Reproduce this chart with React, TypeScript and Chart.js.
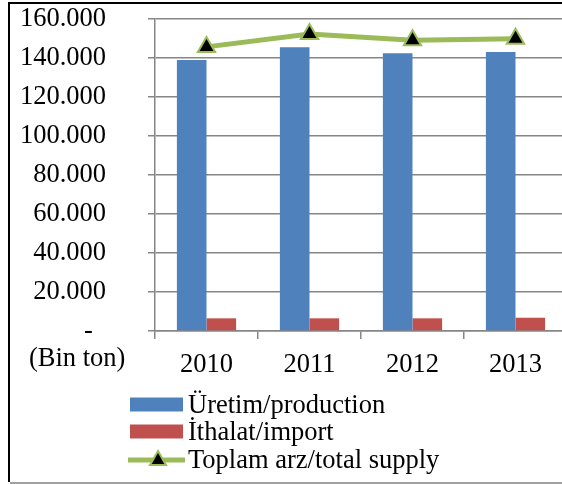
import React, { useEffect, useRef } from "react";
import { Chart, registerables } from "chart.js";

Chart.register(...registerables);

const years = ["2010", "2011", "2012", "2013"];
const production = [139000, 145500, 142400, 143100];
const imports = [6500, 6500, 6500, 6800];
const totalSupply = [145700, 152300, 149100, 149900];
const seriesLabels = ["Üretim/production", "İthalat/import", "Toplam arz/total supply"];
const unitLabel = "(Bin ton)";
const yMin = 0;
const yMax = 160000;
const yStep = 20000;

const BLUE = "#4F81BD";
const RED = "#C0504D";
const GREEN = "#9BBB59";
const GRID = "#868686";
const FONT = '"Liberation Serif", "Times New Roman", serif';
const FS = 26.5;

function fmt(v: number): string {
  if (v === 0) return "-  ";
  return Math.round(v).toString().replace(/\B(?=(\d{3})+(?!\d))/g, ".");
}

export default function App() {
  const ref = useRef<HTMLCanvasElement | null>(null);

  useEffect(() => {
    if (!ref.current) return;
    const chart = new Chart(ref.current, {
      type: "bar",
      data: {
        labels: years,
        datasets: [
          {
            type: "line",
            label: seriesLabels[2],
            data: totalSupply,
            borderColor: GREEN,
            borderWidth: 5,
            backgroundColor: "#000",
            pointStyle: "triangle",
            pointRadius: 10,
            pointBackgroundColor: "#000",
            pointBorderColor: GREEN,
            pointBorderWidth: 2,
            tension: 0,
            order: 0,
          } as any,
          {
            type: "bar",
            label: seriesLabels[0],
            data: production,
            backgroundColor: BLUE,
            categoryPercentage: 0.575,
            barPercentage: 1,
            order: 1,
          },
          {
            type: "bar",
            label: seriesLabels[1],
            data: imports,
            backgroundColor: RED,
            categoryPercentage: 0.575,
            barPercentage: 1,
            order: 1,
          },
        ],
      },
      options: {
        responsive: false,
        animation: false,
        layout: { autoPadding: false, padding: { left: 0, right: 8, top: 19, bottom: 93 } },
        plugins: { legend: { display: false }, tooltip: { enabled: false } },
        scales: {
          x: {
            offset: true,
            grid: {
              offset: true,
              drawOnChartArea: false,
              drawTicks: true,
              tickLength: 8,
              color: GRID,
              lineWidth: 1.5,
            },
            border: { display: true, color: GRID, width: 1.5 },
            ticks: {
              color: "#000",
              font: { family: FONT, size: FS },
              padding: 10,
              maxRotation: 0,
              autoSkip: false,
            },
            afterFit: (s: any) => {
              s.height = 60;
              s.paddingLeft = 0;
              s.paddingRight = 0;
            },
          },
          y: {
            min: yMin,
            max: yMax,
            grid: { color: GRID, lineWidth: 1.5, tickLength: 7, drawTicks: true },
            border: { display: true, color: GRID, width: 1.5 },
            ticks: {
              stepSize: yStep,
              color: "#000",
              font: { family: FONT, size: FS },
              padding: 42,
              autoSkip: false,
              callback: (v: any) => fmt(Number(v)),
            },
            afterFit: (s: any) => {
              s.width = 155;
              s.paddingTop = 0;
              s.paddingBottom = 0;
            },
          },
        },
      },
    });
    return () => chart.destroy();
  }, []);

  const legendRows = [
    { label: seriesLabels[0], kind: "bar", color: BLUE },
    { label: seriesLabels[1], kind: "bar", color: RED },
    { label: seriesLabels[2], kind: "line", color: GREEN },
  ];

  return (
    <div
      style={{
        position: "fixed",
        left: 0,
        top: 0,
        width: 562,
        height: 484,
        overflow: "hidden",
        background: "#fff",
        fontFamily: FONT,
      }}
    >
      <canvas ref={ref} width={575} height={484} style={{ position: "absolute", left: 0, top: 0 }} />
      <div
        style={{
          position: "absolute",
          left: 8,
          top: 2,
          width: 700,
          height: 480,
          borderLeft: "2px solid #000",
          borderTop: "2px solid #000",
          boxSizing: "border-box",
          pointerEvents: "none",
        }}
      />
      <div style={{ position: "absolute", left: 10, top: 482, width: 700, height: 1.5, background: "#a0a0a0" }} />
      <div
        style={{
          position: "absolute",
          left: 29,
          top: 344,
          fontSize: FS,
          lineHeight: "27.5px",
          color: "#000",
          whiteSpace: "nowrap",
        }}
      >
        {unitLabel}
      </div>
      {legendRows.map((r, i) => (
        <div
          key={r.label}
          style={{
            position: "absolute",
            left: 128,
            top: 390.8 + i * 27.5,
            height: 27.5,
            display: "flex",
            alignItems: "center",
            whiteSpace: "nowrap",
          }}
        >
          <svg width={57} height={27.5} style={{ display: "block" }}>
            {r.kind === "bar" ? (
              <rect x={2} y={6.5} width={53} height={14} fill={r.color} />
            ) : (
              <g>
                <line x1={0} y1={14} x2={56} y2={14} stroke={r.color} strokeWidth={5} strokeLinecap="round" />
                <polygon points="30,5 38,19 22,19" fill="#000" stroke={r.color} strokeWidth={2} />
              </g>
            )}
          </svg>
          <span style={{ fontSize: FS, lineHeight: "27.5px", color: "#000", marginLeft: 3 }}>{r.label}</span>
        </div>
      ))}
    </div>
  );
}
